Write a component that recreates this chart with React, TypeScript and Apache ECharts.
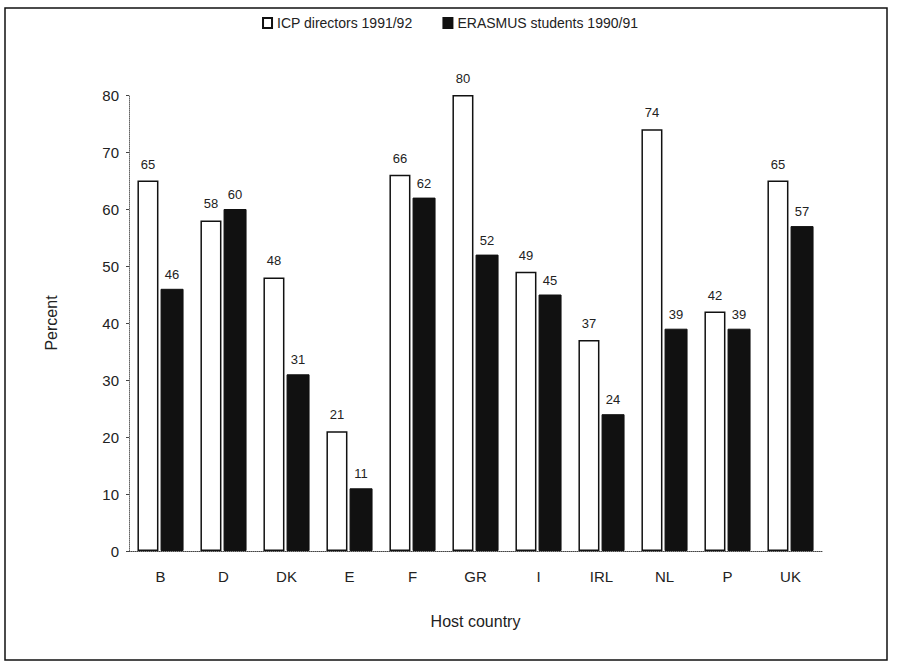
import React, { useEffect, useRef } from "react";
import * as echarts from "echarts";

const categories = ["B", "D", "DK", "E", "F", "GR", "I", "IRL", "NL", "P", "UK"];
const icpDirectors = [65, 58, 48, 21, 66, 80, 49, 37, 74, 42, 65];
const erasmusStudents = [46, 60, 31, 11, 62, 52, 45, 24, 39, 39, 57];
const yTicks = [0, 10, 20, 30, 40, 50, 60, 70, 80];

export default function App() {
  const ref = useRef<HTMLDivElement>(null);
  useEffect(() => {
    if (!ref.current) return;
    const chart = echarts.init(ref.current, null, { renderer: "svg" });
    const font = "Liberation Sans, Arial, sans-serif";
    chart.setOption({
      animation: false,
      backgroundColor: "#fff",
      graphic: [
        {
          type: "rect",
          shape: { x: 5, y: 8, width: 882, height: 652 },
          style: { fill: "none", stroke: "#111", lineWidth: 1.5 },
        },
      ],
      legend: {
        top: 11,
        left: "center",
        icon: "rect",
        itemWidth: 9,
        itemHeight: 10,
        itemGap: 30,
        textStyle: { fontFamily: font, fontSize: 14, color: "#222" },
        data: ["ICP directors 1991/92", "ERASMUS students 1990/91"],
      },
      grid: { left: 129, right: 78, top: 95, bottom: 120 },
      xAxis: {
        type: "category",
        data: categories,
        axisLine: { show: true, lineStyle: { color: "#444", type: "dotted", width: 1 } },
        axisTick: { show: false },
        axisLabel: { fontFamily: font, fontSize: 15, color: "#222", margin: 18 },
        name: "Host country",
        nameLocation: "middle",
        nameGap: 62,
        nameTextStyle: { fontFamily: font, fontSize: 16, color: "#222" },
      },
      yAxis: {
        type: "value",
        min: 0,
        max: 80,
        interval: 10,
        axisLine: { show: true, lineStyle: { color: "#666", type: "dotted", width: 1 } },
        axisTick: { show: true, length: 3, lineStyle: { color: "#444" } },
        splitLine: { show: false },
        axisLabel: {
          fontFamily: font,
          fontSize: 15,
          color: "#222",
          margin: 10,
          formatter: (v: number) => (yTicks.includes(v) ? String(v) : ""),
        },
        name: "Percent",
        nameLocation: "middle",
        nameGap: 70,
        nameTextStyle: { fontFamily: font, fontSize: 16, color: "#222" },
      },
      series: [
        {
          name: "ICP directors 1991/92",
          type: "bar",
          data: icpDirectors,
          barWidth: 21,
          barGap: "10%",
          itemStyle: { color: "#fff", borderColor: "#111", borderWidth: 1.5 },
          label: {
            show: true,
            position: "top",
            distance: 10,
            fontFamily: font,
            fontSize: 13,
            color: "#222",
          },
        },
        {
          name: "ERASMUS students 1990/91",
          type: "bar",
          data: erasmusStudents,
          barWidth: 23,
          itemStyle: { color: "#111", borderColor: "#111", borderWidth: 1 },
          label: {
            show: true,
            position: "top",
            distance: 8,
            fontFamily: font,
            fontSize: 13,
            color: "#222",
          },
        },
      ],
    });
    return () => chart.dispose();
  }, []);
  return <div ref={ref} style={{ width: 900, height: 671, position: "absolute", left: 0, top: 0 }} />;
}
